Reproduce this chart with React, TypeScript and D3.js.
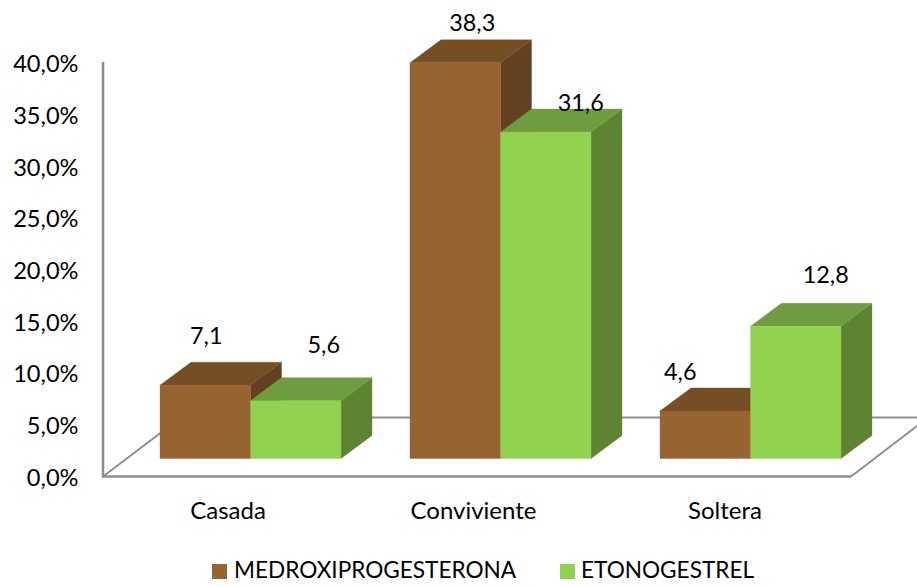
import React from "react";
import * as d3 from "d3";

const categories = ["Casada", "Conviviente", "Soltera"];
const seriesNames = ["MEDROXIPROGESTERONA", "ETONOGESTREL"];
const medroxiprogesterona = [7.1, 38.3, 4.6];
const etonogestrel = [5.6, 31.6, 12.8];
const valueTicks = [0, 5, 10, 15, 20, 25, 30, 35, 40];

const FONT = "Lato, Carlito, Calibri, sans-serif";
const faces = [
  { front: "#976431", top: "#754e26", side: "#634120" },
  { front: "#91d24f", top: "#6f9c3e", side: "#5e8433" },
];
const AXIS = "#8f8f8f";
const DEPTH = { x: 31, y: -23 };

// Data labels sit off the bar tops by hand, as [dx, dy] from the centre of each front top edge.
const labelNudge = [
  [[1, -49], [28, -56]],
  [[17, -40], [35, -29]],
  [[-25, -39], [30, -51]],
];

export default function App() {
  const width = 917;
  const height = 586;
  const yFront = d3.scaleLinear().domain([0, 40]).range([458.5, 45.3]);
  const yAxis = d3.scaleLinear().domain([0, 40]).range([476.5, 63.3]);
  const xGroup = d3.scaleBand<string>().domain(categories).range([125.5, 875.5]).paddingInner(0).paddingOuter(0);
  const groupWidth = 181;
  const xSeries = d3.scaleBand<string>().domain(seriesNames).range([0, groupWidth]);
  const rows = [medroxiprogesterona, etonogestrel];
  const catLabelX = [228, 473.5, 725];

  return (
    <svg
      width={width}
      height={height}
      viewBox={`0 0 ${width} ${height}`}
      style={{ position: "absolute", left: 0, top: 0, background: "#fff" }}
      fontFamily={FONT}
    >
      {/* floor outline and value axis */}
      <g fill="none" stroke={AXIS}>
        <path d="M103,476.5 L181,417.5 H917" strokeWidth={2} />
        <path d="M851,476.5 L917,426" strokeWidth={2} />
        <path d="M103,62 V476.5 H851" strokeWidth={2.6} />
      </g>

      {valueTicks.map((t) => (
        <text key={t} x={78.5} y={yAxis(t) + 9} textAnchor="end" fontSize={23.6} fill="#000">
          {d3.format(".1f")(t).replace(".", ",")}%
        </text>
      ))}

      {categories.map((c, ci) =>
        seriesNames.map((s, si) => {
          const v = rows[si][ci];
          const x0 = xGroup(c)! + (xGroup.bandwidth() - groupWidth) / 2 + xSeries(s)!;
          const x1 = x0 + xSeries.bandwidth();
          const yTop = yFront(v);
          const yBase = yFront(0);
          const f = faces[si];
          const dx = DEPTH.x;
          const dy = DEPTH.y;
          return (
            <g key={s + c} strokeWidth={1} strokeOpacity={0.35} strokeLinejoin="round">
              <polygon
                points={`${x1},${yTop} ${x1 + dx},${yTop + dy} ${x1 + dx},${yBase + dy} ${x1},${yBase}`}
                fill={f.side}
                stroke={f.side}
              />
              <polygon
                points={`${x0},${yTop} ${x0 + dx},${yTop + dy} ${x1 + dx},${yTop + dy} ${x1},${yTop}`}
                fill={f.top}
                stroke={f.top}
              />
              <rect x={x0} y={yTop} width={x1 - x0} height={yBase - yTop} fill={f.front} stroke={f.front} />
            </g>
          );
        })
      )}

      {categories.map((c, ci) =>
        seriesNames.map((s, si) => {
          const v = rows[si][ci];
          const x0 = xGroup(c)! + (xGroup.bandwidth() - groupWidth) / 2 + xSeries(s)!;
          const [nx, ny] = labelNudge[ci][si];
          return (
            <text
              key={s + c}
              x={x0 + xSeries.bandwidth() / 2 + nx}
              y={yFront(v) + ny + 8}
              textAnchor="middle"
              fontSize={23.4}
              fill="#000"
            >
              {d3.format(".1f")(v).replace(".", ",")}
            </text>
          );
        })
      )}

      {categories.map((c, i) => (
        <text key={c} x={catLabelX[i]} y={518.5} textAnchor="middle" fontSize={24} fill="#000">
          {c}
        </text>
      ))}

      {/* legend */}
      <rect x={212} y={564} width={15} height={15} fill={faces[0].front} />
      <text x={234} y={578} fontSize={22.6} fill="#000">{seriesNames[0]}</text>
      <rect x={560} y={564} width={15} height={15} fill={faces[1].front} />
      <text x={581} y={578} fontSize={22.6} fill="#000">{seriesNames[1]}</text>
    </svg>
  );
}
